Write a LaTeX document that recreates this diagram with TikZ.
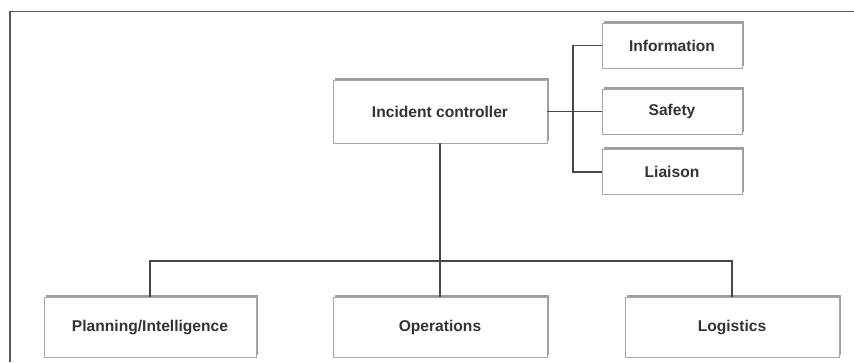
\documentclass[tikz,border=0pt]{standalone}
\usepackage{fontspec}
\setmainfont{Liberation Sans}
\usepackage{tikz}
\usetikzlibrary{shadows}

\begin{document}
\begin{tikzpicture}[x=1pt,y=-1pt,
  box/.style={draw=gray!70,fill=white,line width=0.9pt,rectangle,inner sep=0pt,
    minimum height=#1,text=black!80,font=\bfseries\fontsize{15.6}{17}\selectfont,
    drop shadow={shadow xshift=2.4pt,shadow yshift=2.4pt,fill=black!45,opacity=.85}},
  box/.default=45pt,
  link/.style={draw=black!72,line width=1.4pt}]
\useasboundingbox (0,0) rectangle (854,362);
% frame
\draw[black!65,line width=1.5pt] (10,362) -- (10,11.5) -- (854,11.5);
% top level
\node[box=63pt,minimum width=214pt] (ic) at (440,111.5) {Incident controller};
% staff boxes
\node[box,minimum width=140pt] (info) at (672,45.5) {Information};
\node[box,minimum width=140pt] (safe) at (672,111.5) {Safety};
\node[box,minimum width=140pt] (liai) at (672,172) {Liaison};
% sections
\node[box=60pt,minimum width=212pt] (plan) at (150,327) {Planning/Intelligence};
\node[box=60pt,minimum width=214pt] (ops) at (440,327) {Operations};
\node[box=60pt,minimum width=214pt] (log) at (732,327) {Logistics};
% connectors
\coordinate (sb) at (573,111.5);
\draw[link] (ic.east) -- (safe.west);
\draw[link] (info.west) -| (sb) |- (liai.west);
\coordinate (bus) at (440,261);
\draw[link] (ic.south) -- (ops.north);
\draw[link] (plan.north) |- (bus) -| (log.north);
\end{tikzpicture}
\end{document}
